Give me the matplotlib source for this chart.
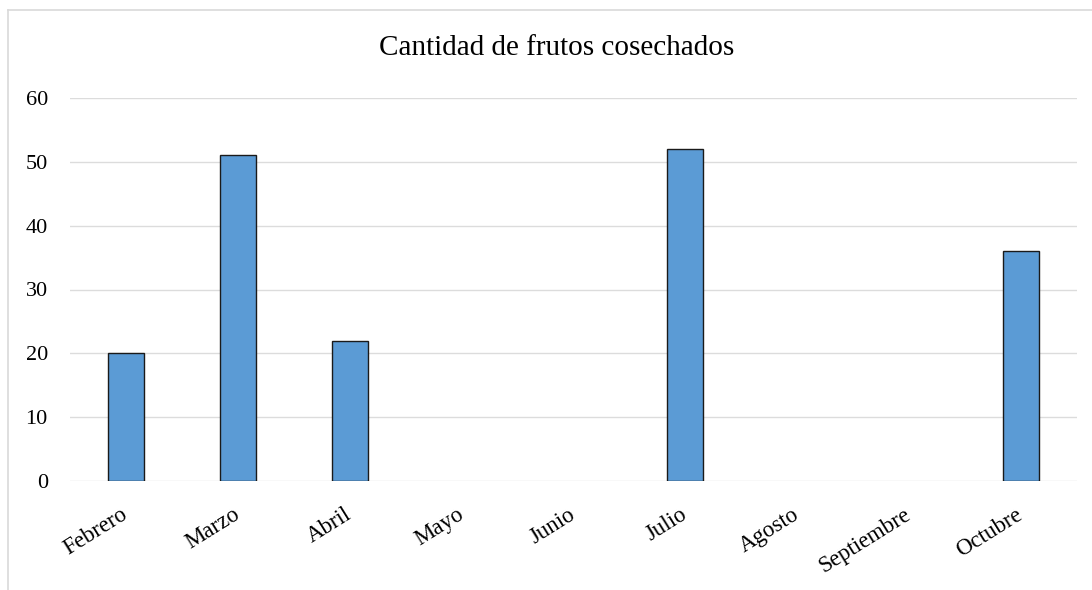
import matplotlib
matplotlib.use("Agg")
import matplotlib.pyplot as plt
from matplotlib.lines import Line2D

months = ["Febrero", "Marzo", "Abril", "Mayo", "Junio", "Julio", "Agosto", "Septiembre", "Octubre"]
values = [20, 51, 22, 0, 0, 52, 0, 0, 36]
yticks = [0, 10, 20, 30, 40, 50, 60]
title = "Cantidad de frutos cosechados"

plt.rcParams['font.family'] = ['Liberation Serif', 'DejaVu Serif']

W, H = 1092, 590
fig = plt.figure(figsize=(W / 100, H / 100), dpi=100)
ax = fig.add_axes([70 / W, 1 - 481 / H, (1077 - 70) / W, (481 - 98) / H])

x = list(range(len(months)))
nz = [i for i, v in enumerate(values) if v > 0]
ax.bar([x[i] for i in nz], [values[i] for i in nz], width=0.32, color="#5B9BD5",
       edgecolor="#1a1a1a", linewidth=1.0, zorder=3)

ax.set_xlim(-0.5, len(months) - 0.5)
ax.set_ylim(0, 60)
ax.set_yticks(yticks)
ax.set_yticklabels([str(t) for t in yticks], fontsize=16)
ax.grid(axis="y", color="#dcdcdc", linewidth=1.0, zorder=0)
ax.tick_params(axis="both", length=0)
ax.tick_params(axis="y", pad=16)
for s in ax.spines.values():
    s.set_visible(False)

ax.set_xticks(x)
ax.set_xticklabels(months, fontsize=16.5, rotation=32, ha="right", va="center",
                   rotation_mode="anchor")
ax.tick_params(axis="x", pad=23)

fig.text(557 / W, 1 - 48 / H, title, ha="center", va="center", fontsize=21)

# chart-area border (light gray, top and left)
fig.add_artist(Line2D([8 / W, 1.0], [1 - 10 / H, 1 - 10 / H], transform=fig.transFigure,
                      color="#d9d9d9", linewidth=1.2))
fig.add_artist(Line2D([8 / W, 8 / W], [1 - 10 / H, 0], transform=fig.transFigure,
                      color="#d9d9d9", linewidth=1.2))

fig.savefig("out.png", dpi=100)
